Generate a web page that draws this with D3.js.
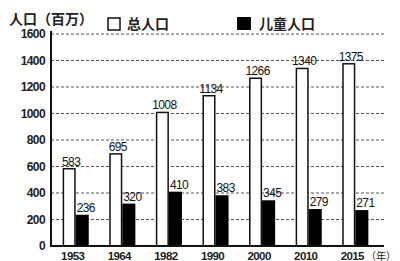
<!DOCTYPE html>
<html><head><meta charset="utf-8">
<script src="https://cdn.jsdelivr.net/npm/d3@7"></script>
<style>
body{margin:0;background:#fff;}
svg{display:block;}
</style></head>
<body>
<svg id="c" width="400" height="261"></svg>
<script>
const years = ["1953","1964","1982","1990","2000","2010","2015"];
const totalPop = [583,695,1008,1134,1266,1340,1375];
const childPop = [236,320,410,383,345,279,271];
const yTicks = [0,200,400,600,800,1000,1200,1400,1600];
const yTitle = "人口（百万）";
const xUnit = "（年）";
const legendNames = ["总人口","儿童人口"];

const svg = d3.select("#c");
const x = d3.scaleBand().domain(years).range([51,380]).paddingInner(0.44).paddingOuter(0.25);
const y = d3.scaleLinear().domain([0,1600]).range([246,34]);
const half = x.bandwidth()/2;
const numFont = "'Liberation Sans', Arial, sans-serif";
const cjkFont = "'Noto Sans CJK SC', sans-serif";

// grid
svg.append("g").selectAll("line").data(yTicks.filter(d=>d>0)).join("line")
  .attr("x1",51).attr("x2",384).attr("y1",d=>y(d)).attr("y2",d=>y(d))
  .attr("stroke","#555").attr("stroke-width",1.2).attr("stroke-dasharray","3,2");

// y axis
const yAxis = d3.axisLeft(y).tickValues(yTicks).tickSize(0).tickPadding(6).tickFormat(d3.format("d"));
const ga = svg.append("g").attr("transform","translate(51,0)").call(yAxis);
ga.select(".domain").remove();
ga.selectAll("text").attr("font-family",numFont).attr("font-size",12).attr("font-weight","bold")
  .attr("fill","#222").attr("letter-spacing","-0.6");
svg.append("line").attr("x1",51).attr("x2",51).attr("y1",y(1600)-3).attr("y2",y(0)+1)
  .attr("stroke","#111").attr("stroke-width",2);

// bars
const data = years.map((yr,i)=>({yr,t:totalPop[i],c:childPop[i]}));
svg.append("g").selectAll("rect").data(data).join("rect")
  .attr("x",d=>x(d.yr)+0.75).attr("width",half-1.5)
  .attr("y",d=>y(d.t)).attr("height",d=>y(0)-y(d.t))
  .attr("fill","#fff").attr("stroke","#111").attr("stroke-width",1.5);
svg.append("g").selectAll("rect").data(data).join("rect")
  .attr("x",d=>x(d.yr)+half).attr("width",half)
  .attr("y",d=>y(d.c)).attr("height",d=>y(0)-y(d.c))
  .attr("fill","#000");

// baseline
svg.append("line").attr("x1",51).attr("x2",384).attr("y1",y(0)).attr("y2",y(0))
  .attr("stroke","#111").attr("stroke-width",2);

// value labels
svg.append("g").selectAll("text").data(data).join("text")
  .attr("x",d=>x(d.yr)+half/2+2).attr("y",d=>y(d.t)-3)
  .attr("text-anchor","middle").attr("font-family",numFont).attr("font-size",12)
  .attr("letter-spacing","-0.6").attr("fill","#111").text(d=>d.t);
svg.append("g").selectAll("text").data(data).join("text")
  .attr("x",d=>x(d.yr)+half+1).attr("y",d=>y(d.c)-3)
  .attr("text-anchor","start").attr("font-family",numFont).attr("font-size",12)
  .attr("letter-spacing","-0.6").attr("fill","#111").text(d=>d.c);

// x labels
svg.append("g").selectAll("text").data(years).join("text")
  .attr("x",d=>x(d)+x.bandwidth()/2-3).attr("y",259.5)
  .attr("text-anchor","middle").attr("font-family",numFont).attr("font-size",11.5)
  .attr("font-weight","bold").attr("letter-spacing","-0.6").attr("fill","#222").text(d=>d);
svg.append("text").attr("x",366).attr("y",259.5).attr("font-family",cjkFont).attr("font-size",10)
  .attr("fill","#222").text(xUnit);

// title
svg.append("text").attr("x",9).attr("y",24).attr("font-family",cjkFont).attr("font-size",14)
  .attr("font-weight","bold").attr("fill","#222").text(yTitle);

// legend
svg.append("rect").attr("x",108).attr("y",18).attr("width",12).attr("height",12)
  .attr("fill","#fff").attr("stroke","#111").attr("stroke-width",1.5);
svg.append("text").attr("x",127).attr("y",29).attr("font-family",cjkFont).attr("font-size",14)
  .attr("font-weight","bold").attr("fill","#222").text(legendNames[0]);
svg.append("rect").attr("x",237).attr("y",17).attr("width",14).attr("height",13).attr("fill","#000");
svg.append("text").attr("x",259).attr("y",29).attr("font-family",cjkFont).attr("font-size",14)
  .attr("font-weight","bold").attr("fill","#222").text(legendNames[1]);
</script>
</body></html>
